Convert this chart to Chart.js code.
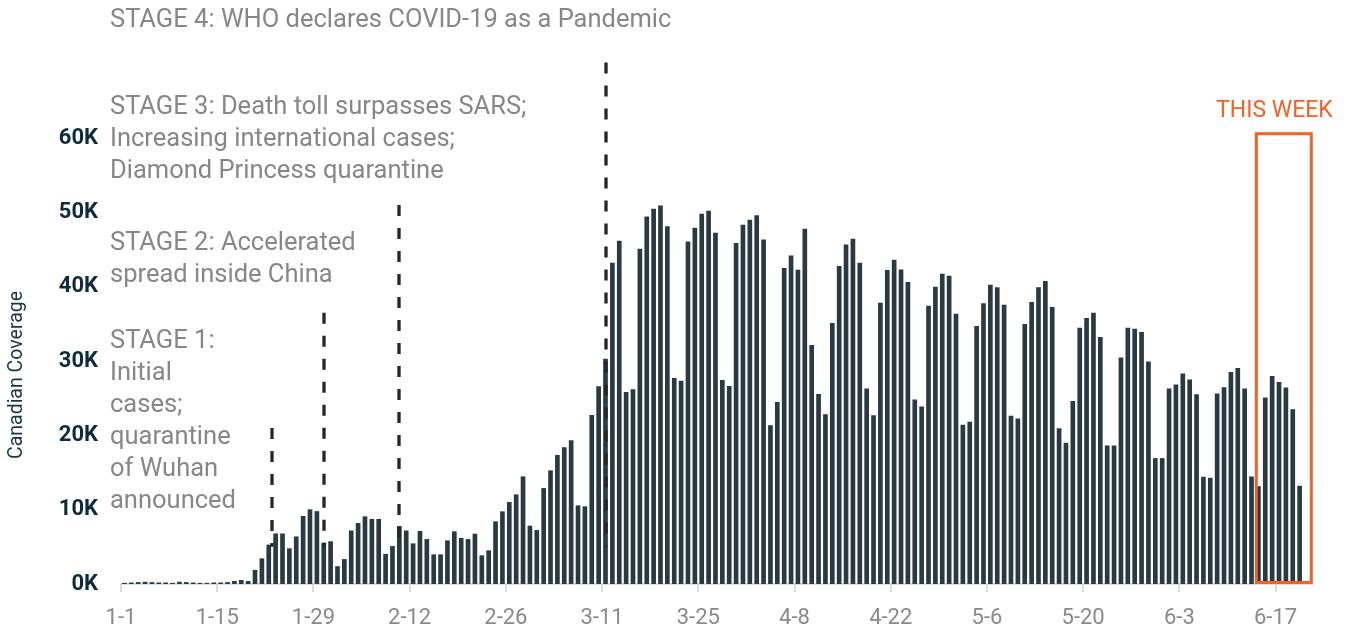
<!DOCTYPE html>
<html>
<head>
<meta charset="utf-8">
<script src="https://cdn.jsdelivr.net/npm/chart.js@4/dist/chart.umd.min.js"></script>
<style>
  html, body { margin: 0; padding: 0; background: #fff; }
  canvas { display: block; }
</style>
</head>
<body>
<canvas id="coverageChart" width="1350" height="629"></canvas>
<script>
// daily Canadian coverage, Jan 1 -> Jun 20
const coverage = [
  150, 200, 250, 300, 250, 200, 200, 150, 300, 250, 200, 150, 150, 200, 200, 250,
  400, 540, 400, 1900, 3450, 5300, 6800, 6800, 4800, 6400, 9150, 10050, 9800, 5550,
  5750, 2400, 3350, 7200, 8200, 9100, 8750, 8750, 4050, 5100, 7800, 7200,
  5470, 7130, 6050, 3990, 3990, 5870, 7090, 6190, 6050, 6770, 3860, 4530, 8430, 9780,
  11030, 12060, 14480, 7850, 7260, 12910, 15290, 17350, 18390, 19330, 10580, 10450,
  22740, 26600, 30330, 43230, 46190, 25850, 26210, 45110, 49460, 50490, 50940, 48160,
  27730, 27370, 46100, 47940, 49820, 50220, 47270, 27460, 26660, 45880, 48340, 49010,
  49640, 46370, 21370, 24510, 42520, 44220, 42290, 47800, 32170, 25580, 22850, 35130,
  42790, 45700, 46460, 43230, 26300, 22710, 37860, 42250, 43640, 42340, 40640, 24820,
  23880, 37450, 40010, 41760, 41490, 36380, 21420, 21820, 34720, 37770, 40280, 39920,
  37590, 22630, 22270, 34990, 37950, 39920, 40770, 37280, 20970, 19000, 24640, 34500,
  35800, 36510, 33240, 18640, 18640, 30470, 34500, 34340, 33920, 29930, 16940, 16940,
  26300, 26840, 28320, 27510, 25540, 14430, 14290, 25630, 26480, 28540, 29080, 26300,
  14470, 13170, 25090, 28000, 27200, 26430, 23520, 13220
];

const tickDays = [0, 14, 28, 42, 56, 70, 84, 98, 112, 126, 140, 154, 168];
const tickLabels = ['1-1', '1-15', '1-29', '2-12', '2-26', '3-11', '3-25', '4-8', '4-22', '5-6', '5-20', '6-3', '6-17'];
const yTicks = [0, 10000, 20000, 30000, 40000, 50000, 60000];

// stage markers (day position, top of dashed line)
const stageDays = [22, 29.5, 40.5, 70.5];
const stageTops = [21000, 36500, 51000, 70200];
const stageText = [
  ['STAGE 4: WHO declares COVID-19 as a Pandemic'],
  ['STAGE 3: Death toll surpasses SARS;', 'Increasing international cases;', 'Diamond Princess quarantine'],
  ['STAGE 2: Accelerated', 'spread inside China'],
  ['STAGE 1:', 'Initial', 'cases;', 'quarantine', 'of Wuhan', 'announced']
];
const stageTextY = [21, 108, 244, 342];

// "this week" window
const weekStart = 165.2;
const weekEnd = 173.2;
const weekTop = 60600;

Chart.defaults.font.family = 'Roboto';

const overlay = {
  id: 'overlay',
  afterDatasetsDraw(chart) {
    const { ctx, scales: { x, y } } = chart;
    ctx.save();

    ctx.strokeStyle = '#262626';
    ctx.lineWidth = 3.3;
    ctx.setLineDash([11, 12]);
    stageDays.forEach((d, k) => {
      const px = Math.round(x.getPixelForValue(d));
      ctx.beginPath();
      ctx.moveTo(px, y.getPixelForValue(stageTops[k]));
      ctx.lineTo(px, y.getPixelForValue(5000));
      ctx.stroke();
    });

    ctx.setLineDash([]);
    ctx.strokeStyle = '#f26125';
    ctx.lineWidth = 3;
    const bx = x.getPixelForValue(weekStart);
    const by = y.getPixelForValue(weekTop);
    ctx.strokeRect(bx, by, x.getPixelForValue(weekEnd) - bx, y.getPixelForValue(0) - 1.5 - by);

    ctx.fillStyle = '#f26125';
    ctx.font = '23px Roboto';
    ctx.textBaseline = 'middle';
    ctx.textAlign = 'left';
    ctx.fillText('THIS WEEK', 1216, 111);

    ctx.fillStyle = '#878787';
    ctx.font = '25.5px Roboto';
    stageText.forEach((lines, k) => {
      lines.forEach((t, j) => ctx.fillText(t, 110, stageTextY[k] + j * 32));
    });

    // y axis title
    ctx.translate(17, 375);
    ctx.rotate(-Math.PI / 2);
    ctx.textAlign = 'center';
    ctx.fillStyle = '#163447';
    ctx.font = '19.5px Roboto';
    ctx.fillText('Canadian Coverage', 0, 0);
    ctx.restore();
  }
};

new Chart(document.getElementById('coverageChart'), {
  type: 'bar',
  data: {
    datasets: [{
      data: coverage.map((v, i) => ({ x: i + 0.5, y: v })),
      backgroundColor: '#2b3a42',
      barPercentage: 0.68,
      categoryPercentage: 1
    }]
  },
  options: {
    responsive: false,
    animation: false,
    layout: { padding: { top: 49, right: 38, bottom: 3, left: 0 } },
    plugins: { legend: { display: false }, tooltip: { enabled: false } },
    scales: {
      x: {
        type: 'linear',
        offset: false,
        min: 0,
        max: 173.3,
        afterBuildTicks: (scale) => { scale.ticks = tickDays.map(v => ({ value: v })); },
        afterFit: (scale) => { scale.height = 42; },
        grid: { drawOnChartArea: false, offset: false, color: '#dcdcdc', lineWidth: 2, tickLength: 8 },
        border: { color: '#dcdcdc', width: 2 },
        ticks: {
          color: '#8a8a8a',
          font: { size: 22 },
          padding: 13,
          maxRotation: 0,
          autoSkip: false,
          callback: (v) => tickLabels[tickDays.indexOf(v)]
        }
      },
      y: {
        min: 0,
        max: 72000,
        afterBuildTicks: (scale) => { scale.ticks = yTicks.map(v => ({ value: v })); },
        afterFit: (scale) => { scale.width = 121; },
        grid: { display: false, drawTicks: false },
        border: { display: false },
        ticks: {
          color: '#0e2b3d',
          font: { size: 22, weight: 'bold' },
          padding: 23,
          callback: (v) => (v / 1000) + 'K'
        }
      }
    }
  },
  plugins: [overlay]
});
</script>
</body>
</html>
